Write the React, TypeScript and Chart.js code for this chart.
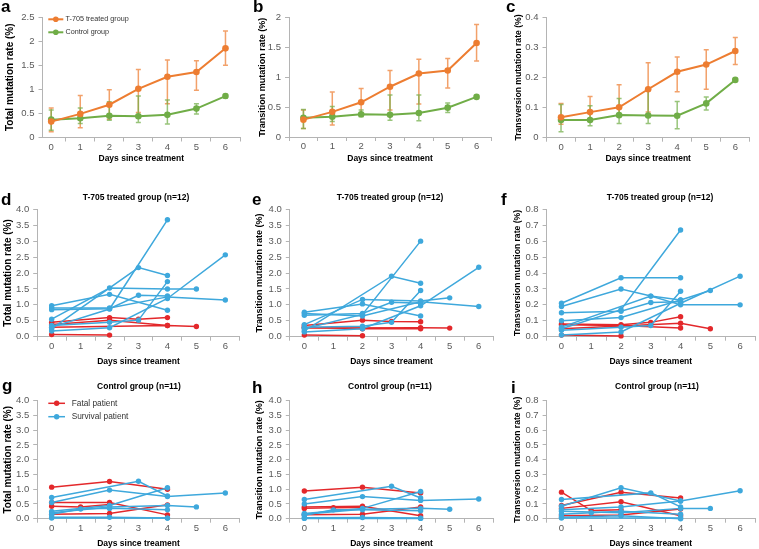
import React, { useEffect, useRef } from "react";
import { Chart, registerables } from "chart.js";

Chart.register(...registerables);

const FONT = 'Arial, "Liberation Sans", Helvetica, sans-serif';
const AXIS = "#B4B4B4";
const TICK = "#595959";
const ORANGE = "#ED7D31";
const GREEN = "#70AD47";
const ORANGE_ERR = "rgba(237,125,49,0.72)";
const GREEN_ERR = "rgba(112,173,71,0.72)";
const RED = "#E3282B";
const BLUE = "#3EA8DC";

type Pt = [number, number];

// ---------- top row: group means ----------
const days = [0, 1, 2, 3, 4, 5, 6];
const groupLabels = ["T-705 treated group", "Control group"];

const totalTreated = [0.33, 0.49, 0.68, 1.01, 1.26, 1.36, 1.85];
const totalTreatedLow = [0.12, 0.2, 0.38, 0.52, 0.7, 0.98, 1.5];
const totalTreatedHigh = [0.61, 0.87, 0.99, 1.41, 1.61, 1.59, 2.21];
const totalControl = [0.37, 0.4, 0.45, 0.44, 0.47, 0.6, 0.86];
const totalControlLow = [0.15, 0.29, 0.36, 0.31, 0.28, 0.49, 0.82];
const totalControlHigh = [0.57, 0.61, 0.74, 0.86, 0.78, 0.7, 0.89];

const transTreated = [0.29, 0.42, 0.58, 0.84, 1.06, 1.11, 1.57];
const transTreatedLow = [0.14, 0.2, 0.36, 0.45, 0.55, 0.82, 1.27];
const transTreatedHigh = [0.45, 0.75, 0.81, 1.11, 1.3, 1.31, 1.88];
const transControl = [0.32, 0.34, 0.38, 0.37, 0.4, 0.49, 0.67];
const transControlLow = [0.14, 0.26, 0.34, 0.28, 0.27, 0.41, 0.65];
const transControlHigh = [0.46, 0.51, 0.45, 0.7, 0.7, 0.57, 0.69];

const trvTreated = [0.068, 0.085, 0.101, 0.161, 0.219, 0.243, 0.288];
const trvTreatedLow = [0.045, 0.06, 0.075, 0.085, 0.153, 0.161, 0.243];
const trvTreatedHigh = [0.114, 0.137, 0.176, 0.249, 0.268, 0.292, 0.333];
const trvControl = [0.059, 0.059, 0.075, 0.074, 0.073, 0.114, 0.192];
const trvControlLow = [0.02, 0.04, 0.047, 0.047, 0.03, 0.092, 0.189];
const trvControlHigh = [0.11, 0.106, 0.13, 0.158, 0.12, 0.135, 0.195];

// ---------- patients: [day, rate %] ----------
const patientLabels = ["Fatal patient", "Survival patient"];

const dFatal: Pt[][] = [
  [[0, 0.07], [2, 0.05]],
  [[0, 0.45], [2, 0.6], [3, 0.55], [4, 0.6]],
  [[0, 0.3], [4, 0.35], [5, 0.32]],
  [[0, 0.38], [2, 0.52], [4, 0.35]],
];
const dSurvival: Pt[][] = [
  [[0, 0.3], [2, 0.87], [4, 3.67]],
  [[0, 0.55], [2, 1.53], [4, 1.5], [5, 1.5]],
  [[0, 0.97], [2, 1.33], [4, 0.83]],
  [[0, 0.25], [3, 2.17], [4, 1.92]],
  [[0, 0.85], [2, 0.88], [3, 1.3], [4, 1.28]],
  [[0, 0.35], [2, 0.45], [3, 0.52], [4, 1.73]],
  [[0, 0.18], [2, 0.28], [4, 1.2], [6, 2.57]],
  [[0, 0.9], [2, 0.9], [4, 1.25], [6, 1.15]],
];

const eFatal: Pt[][] = [
  [[0, 0.05], [2, 0.03]],
  [[0, 0.35], [2, 0.52], [3, 0.48], [4, 0.47]],
  [[0, 0.27], [4, 0.28], [5, 0.27]],
  [[0, 0.3], [2, 0.25], [4, 0.25]],
];
const eSurvival: Pt[][] = [
  [[0, 0.25], [2, 0.7], [4, 3.0]],
  [[0, 0.38], [2, 1.17], [4, 1.12], [5, 1.22]],
  [[0, 0.77], [2, 1.03], [4, 0.65]],
  [[0, 0.18], [3, 1.9], [4, 1.68]],
  [[0, 0.67], [2, 0.73], [3, 1.08], [4, 1.05]],
  [[0, 0.3], [2, 0.33], [3, 0.45], [4, 1.45]],
  [[0, 0.15], [2, 0.25], [4, 0.97], [6, 2.18]],
  [[0, 0.73], [2, 0.65], [4, 1.1], [6, 0.95]],
];

const fFatal: Pt[][] = [
  [[0, 0.01], [2, 0.005]],
  [[0, 0.08], [2, 0.075], [3, 0.09], [4, 0.125]],
  [[0, 0.05], [4, 0.085], [5, 0.05]],
  [[0, 0.075], [2, 0.07], [4, 0.055]],
];
const fSurvival: Pt[][] = [
  [[0, 0.05], [2, 0.17], [4, 0.67]],
  [[0, 0.21], [2, 0.37], [4, 0.37]],
  [[0, 0.19], [2, 0.3], [3, 0.255], [4, 0.2], [6, 0.2]],
  [[0, 0.06], [3, 0.255], [4, 0.23]],
  [[0, 0.15], [2, 0.16], [3, 0.215], [4, 0.22]],
  [[0, 0.04], [2, 0.06], [3, 0.07], [4, 0.285]],
  [[0, 0.01], [2, 0.03], [4, 0.21], [6, 0.38]],
  [[0, 0.1], [2, 0.12], [4, 0.23], [5, 0.29]],
];

const gFatal: Pt[][] = [
  [[0, 1.07], [2, 1.26], [4, 1.0]],
  [[0, 0.55], [2, 0.55], [4, 0.13]],
  [[0, 0.42], [1, 0.4], [2, 0.48]],
  [[0, 0.15], [2, 0.18], [4, 0.47]],
];
const gSurvival: Pt[][] = [
  [[0, 0.72], [3, 1.27], [4, 0.77]],
  [[0, 0.55], [2, 0.97], [4, 0.75], [6, 0.87]],
  [[0, 0.25], [2, 0.45], [4, 1.05]],
  [[0, 0.2], [2, 0.4], [4, 0.45], [5, 0.4]],
  [[0, 0.15], [1, 0.33], [2, 0.35], [4, 0.3]],
  [[0, 0.05], [2, 0.05], [4, 0.02]],
  [[0, 0.02], [4, 0.02]],
];

const hFatal: Pt[][] = [
  [[0, 0.94], [2, 1.07], [4, 0.87]],
  [[0, 0.4], [2, 0.42], [4, 0.1]],
  [[0, 0.35], [1, 0.37], [2, 0.38]],
  [[0, 0.13], [2, 0.15], [4, 0.4]],
];
const hSurvival: Pt[][] = [
  [[0, 0.65], [3, 1.1], [4, 0.7]],
  [[0, 0.5], [2, 0.75], [4, 0.62], [6, 0.67]],
  [[0, 0.18], [2, 0.35], [4, 0.92]],
  [[0, 0.15], [2, 0.32], [4, 0.35], [5, 0.32]],
  [[0, 0.12], [1, 0.3], [2, 0.3], [4, 0.27]],
  [[0, 0.03], [2, 0.04], [4, 0.02]],
  [[0, 0.01], [4, 0.01]],
];

const iFatal: Pt[][] = [
  [[0, 0.09], [2, 0.18], [4, 0.14]],
  [[0, 0.07], [2, 0.115], [4, 0.02]],
  [[0, 0.18], [1, 0.055], [2, 0.06]],
  [[0, 0.02], [2, 0.025], [4, 0.065]],
];
const iSurvival: Pt[][] = [
  [[0, 0.13], [3, 0.175], [4, 0.08]],
  [[0, 0.085], [2, 0.21], [4, 0.12], [6, 0.19]],
  [[0, 0.06], [2, 0.08], [4, 0.12]],
  [[0, 0.05], [2, 0.04], [4, 0.07], [5, 0.07]],
  [[0, 0.03], [1, 0.04], [2, 0.05], [4, 0.03]],
  [[0, 0.01], [2, 0.02], [4, 0.0]],
  [[0, 0.005], [4, 0.005]],
];

// ---------- plugins ----------
const errorBarPlugin = {
  id: "errorBars",
  beforeDatasetsDraw(chart: any) {
    const { ctx } = chart;
    const xs = chart.scales.x;
    const ys = chart.scales.y;
    chart.data.datasets.forEach((ds: any) => {
      if (!ds.errLow) return;
      ctx.save();
      ctx.strokeStyle = ds.errColor;
      ctx.lineWidth = 1.5;
      ds.data.forEach((p: any, j: number) => {
        const x = xs.getPixelForValue(p.x);
        const y1 = ys.getPixelForValue(ds.errLow[j]);
        const y2 = ys.getPixelForValue(ds.errHigh[j]);
        ctx.beginPath();
        ctx.moveTo(x, y1);
        ctx.lineTo(x, y2);
        ctx.moveTo(x - 2.5, y1);
        ctx.lineTo(x + 2.5, y1);
        ctx.moveTo(x - 2.5, y2);
        ctx.lineTo(x + 2.5, y2);
        ctx.stroke();
      });
      ctx.restore();
    });
  },
};

const lineLegendPlugin = {
  id: "lineLegend",
  afterDraw(chart: any, _args: any, opts: any) {
    if (!opts || !opts.items || !opts.items.length) return;
    const { ctx } = chart;
    ctx.save();
    ctx.font = `${opts.size}px ${FONT}`;
    ctx.textBaseline = "middle";
    ctx.textAlign = "left";
    for (let i = 0; i < opts.items.length; i++) {
      const it = opts.items[i];
      const y = opts.y + i * opts.dy;
      ctx.strokeStyle = it.color;
      ctx.fillStyle = it.color;
      ctx.lineWidth = opts.lw;
      ctx.beginPath();
      ctx.moveTo(opts.x, y);
      ctx.lineTo(opts.x + opts.len, y);
      ctx.stroke();
      ctx.beginPath();
      ctx.arc(opts.x + opts.len / 2, y, opts.r, 0, Math.PI * 2);
      ctx.fill();
      ctx.fillStyle = "#333333";
      ctx.fillText(it.label, opts.textX, y);
    }
    ctx.restore();
  },
};

const panelTitlePlugin = {
  id: "panelTitle",
  afterDraw(chart: any, _args: any, opts: any) {
    if (!opts || !opts.text) return;
    const { ctx } = chart;
    ctx.save();
    ctx.font = `bold ${opts.size}px ${FONT}`;
    ctx.fillStyle = "#000";
    ctx.textAlign = "center";
    ctx.textBaseline = "middle";
    ctx.fillText(opts.text, opts.x, opts.y);
    ctx.restore();
  },
};

// ---------- helpers ----------
const fmtPlain = (v: number) => String(Math.round(v * 100) / 100);
const fmtOne = (v: number) => Number(v).toFixed(1);
const isInt = (v: any) => typeof v === "number" && Math.abs(v - Math.round(v)) < 1e-6;

function groupDatasets(
  tr: number[], trLo: number[], trHi: number[],
  ct: number[], ctLo: number[], ctHi: number[]
) {
  const mk = (vals: number[], lo: number[], hi: number[], color: string, err: string, label: string) => ({
    label,
    data: days.map((d, i) => ({ x: d, y: vals[i] })),
    errLow: lo,
    errHigh: hi,
    errColor: err,
    borderColor: color,
    backgroundColor: color,
    borderWidth: 2,
    pointRadius: 3.3,
    pointBorderWidth: 0,
    tension: 0,
    clip: false,
  });
  return [
    mk(tr, trLo, trHi, ORANGE, ORANGE_ERR, groupLabels[0]),
    mk(ct, ctLo, ctHi, GREEN, GREEN_ERR, groupLabels[1]),
  ];
}

function patientDatasets(fatal: Pt[][], surv: Pt[][]) {
  const mk = (pts: Pt[], color: string, label: string) => ({
    label,
    data: pts.map(([x, y]) => ({ x, y })),
    borderColor: color,
    backgroundColor: color,
    borderWidth: 1.5,
    pointRadius: 2.7,
    pointBorderWidth: 0,
    tension: 0,
    clip: false,
  });
  return [
    ...surv.map((p) => mk(p, BLUE, patientLabels[1])),
    ...fatal.map((p) => mk(p, RED, patientLabels[0])),
  ];
}

interface PanelCfg {
  key: string;
  left: number;
  top: number;
  width: number;
  height: number;
  yW: number;
  xH: number;
  padTop: number;
  padRight: number;
  xMin: number;
  xMax: number;
  yMax: number;
  yStep: number;
  yFmt: (v: number) => string;
  yTitle: string;
  yTitleSize: number;
  yTitleCenter: number; // page x of the rotated title's centre
  xTitle: string;
  datasets: any[];
  title?: { text: string; x: number; y: number; size: number };
  legend?: any;
}

const X_TREAT = "Days since treatment";
const X_TREAM = "Days since treament";
const Y_TOTAL = "Total mutation rate (%)";
const Y_TRANS = "Transition mutation rate (%)";
const Y_TRV = "Transversion mutation rate (%)";
const T_TREATED = "T-705 treated group (n=12)";
const T_CONTROL = "Control group (n=11)";

const ROW1 = { top: 0, height: 164, padTop: 17, xH: 26.5 };
const ROW2 = { top: 190, height: 177, padTop: 19.3, xH: 30.3 };
const ROW3 = { top: 375, height: 174, padTop: 25.7, xH: 30.3 };
const COL1 = { left: 0, width: 245, yW: 37.2, padRight: 5.2 };
const COL2 = { left: 250, width: 250, yW: 39.8, padRight: 6.7 };
const COL3 = { left: 500, width: 259, yW: 46.6, padRight: 1.6 };

const panels: PanelCfg[] = [
  {
    key: "a", left: 0, top: ROW1.top, width: 245, height: ROW1.height, yW: 42.5, xH: ROW1.xH,
    padTop: 17, padRight: 5, xMin: -0.3, xMax: 6.5, yMax: 2.5, yStep: 0.5, yFmt: fmtPlain,
    yTitle: Y_TOTAL, yTitleSize: 10, yTitleCenter: 10.5, xTitle: X_TREAT,
    datasets: groupDatasets(totalTreated, totalTreatedLow, totalTreatedHigh, totalControl, totalControlLow, totalControlHigh),
    legend: {
      items: [
        { label: groupLabels[0], color: ORANGE },
        { label: groupLabels[1], color: GREEN },
      ],
      x: 48.3, len: 15, textX: 65.5, y: 19.3, dy: 13, size: 7.2, lw: 2, r: 2.8,
    },
  },
  {
    key: "b", left: 250, top: ROW1.top, width: 245, height: ROW1.height, yW: 39, xH: 27,
    padTop: 17.3, padRight: 3, xMin: -0.5, xMax: 6.5, yMax: 2, yStep: 0.5, yFmt: fmtPlain,
    yTitle: Y_TRANS, yTitleSize: 9, yTitleCenter: 263, xTitle: X_TREAT,
    datasets: groupDatasets(transTreated, transTreatedLow, transTreatedHigh, transControl, transControlLow, transControlHigh),
  },
  {
    key: "c", left: 500, top: ROW1.top, width: 255, height: ROW1.height, yW: 46.5, xH: 26.3,
    padTop: 17.3, padRight: 5.2, xMin: -0.5, xMax: 6.5, yMax: 0.4, yStep: 0.1, yFmt: fmtPlain,
    yTitle: Y_TRV, yTitleSize: 8.6, yTitleCenter: 519, xTitle: X_TREAT,
    datasets: groupDatasets(trvTreated, trvTreatedLow, trvTreatedHigh, trvControl, trvControlLow, trvControlHigh),
  },
  {
    key: "d", ...COL1, top: ROW2.top, height: ROW2.height, xH: ROW2.xH, padTop: ROW2.padTop,
    xMin: -0.5, xMax: 6.5, yMax: 4, yStep: 0.5, yFmt: fmtOne,
    yTitle: Y_TOTAL, yTitleSize: 10, yTitleCenter: 7.8, xTitle: X_TREAM,
    datasets: patientDatasets(dFatal, dSurvival),
    title: { text: T_TREATED, x: 136, y: 7.5, size: 8.5 },
  },
  {
    key: "e", ...COL2, top: ROW2.top, height: ROW2.height, xH: ROW2.xH, padTop: ROW2.padTop,
    xMin: -0.5, xMax: 6.5, yMax: 4, yStep: 0.5, yFmt: fmtOne,
    yTitle: Y_TRANS, yTitleSize: 9, yTitleCenter: 259.5, xTitle: X_TREAM,
    datasets: patientDatasets(eFatal, eSurvival),
    title: { text: T_TREATED, x: 140, y: 7.5, size: 8.5 },
  },
  {
    key: "f", ...COL3, top: ROW2.top, height: ROW2.height, xH: ROW2.xH, padTop: ROW2.padTop,
    xMin: -0.5, xMax: 6.5, yMax: 0.8, yStep: 0.1, yFmt: fmtOne,
    yTitle: Y_TRV, yTitleSize: 8.6, yTitleCenter: 517.5, xTitle: X_TREAM,
    datasets: patientDatasets(fFatal, fSurvival),
    title: { text: T_TREATED, x: 160, y: 7.5, size: 8.5 },
  },
  {
    key: "g", ...COL1, top: ROW3.top, height: ROW3.height, xH: ROW3.xH, padTop: ROW3.padTop,
    xMin: -0.5, xMax: 6.5, yMax: 4, yStep: 0.5, yFmt: fmtOne,
    yTitle: Y_TOTAL, yTitleSize: 10, yTitleCenter: 7.8, xTitle: X_TREAM,
    datasets: patientDatasets(gFatal, gSurvival),
    title: { text: T_CONTROL, x: 139, y: 12, size: 8.5 },
    legend: {
      items: [
        { label: patientLabels[0], color: RED },
        { label: patientLabels[1], color: BLUE },
      ],
      x: 48.3, len: 16.7, textX: 71.7, y: 28.3, dy: 13.4, size: 8.3, lw: 1.5, r: 2.7,
    },
  },
  {
    key: "h", ...COL2, top: ROW3.top, height: ROW3.height, xH: ROW3.xH, padTop: ROW3.padTop,
    xMin: -0.5, xMax: 6.5, yMax: 4, yStep: 0.5, yFmt: fmtOne,
    yTitle: Y_TRANS, yTitleSize: 9, yTitleCenter: 260, xTitle: X_TREAM,
    datasets: patientDatasets(hFatal, hSurvival),
    title: { text: T_CONTROL, x: 140, y: 12, size: 8.5 },
  },
  {
    key: "i", ...COL3, top: ROW3.top, height: ROW3.height, xH: ROW3.xH, padTop: ROW3.padTop,
    xMin: -0.5, xMax: 6.5, yMax: 0.8, yStep: 0.1, yFmt: fmtOne,
    yTitle: Y_TRV, yTitleSize: 8.6, yTitleCenter: 517.5, xTitle: X_TREAM,
    datasets: patientDatasets(iFatal, iSurvival),
    title: { text: T_CONTROL, x: 157, y: 12, size: 8.5 },
  },
];

const letters = [
  { t: "a", left: 1, top: -1.7 },
  { t: "b", left: 253, top: -2.4 },
  { t: "c", left: 506, top: -2 },
  { t: "d", left: 1, top: 190.6 },
  { t: "e", left: 252, top: 190.6 },
  { t: "f", left: 501, top: 190.6 },
  { t: "g", left: 2, top: 376.6 },
  { t: "h", left: 252, top: 378.6 },
  { t: "i", left: 511, top: 378.6 },
];

function buildConfig(p: PanelCfg): any {
  const tickFont = { family: FONT, size: 9.5 };
  const yTitlePad = Math.max(0, p.yTitleCenter - p.left - 0.6 * p.yTitleSize);
  return {
    type: "line",
    data: { datasets: p.datasets },
    options: {
      animation: false,
      responsive: false,
      events: [],
      layout: { padding: { top: p.padTop, right: p.padRight, left: 0, bottom: 0 } },
      plugins: {
        legend: { display: false },
        tooltip: { enabled: false },
        lineLegend: p.legend || {},
        panelTitle: p.title || {},
      },
      scales: {
        x: {
          type: "linear",
          min: p.xMin,
          max: p.xMax,
          bounds: "data",
          afterBuildTicks: (s: any) => {
            const t: any[] = [];
            for (let v = Math.ceil(p.xMin * 2) / 2; v <= p.xMax + 1e-9; v += 0.5) t.push({ value: v });
            s.ticks = t;
          },
          afterFit: (s: any) => {
            s.height = p.xH;
          },
          grid: {
            drawOnChartArea: false,
            drawTicks: true,
            tickLength: 4,
            color: AXIS,
            tickColor: (c: any) => (c.tick && isInt(c.tick.value) ? "rgba(0,0,0,0)" : AXIS),
          },
          border: { display: true, color: AXIS, width: 1 },
          ticks: {
            autoSkip: false,
            maxRotation: 0,
            minRotation: 0,
            padding: 0,
            font: tickFont,
            color: TICK,
            callback: (v: any) => (isInt(v) && v >= 0 ? String(Math.round(v)) : ""),
          },
          title: {
            display: true,
            text: p.xTitle,
            font: { family: FONT, size: 8.5, weight: "bold" },
            color: "#000",
            padding: 0,
          },
        },
        y: {
          type: "linear",
          min: 0,
          max: p.yMax,
          afterFit: (s: any) => {
            s.width = p.yW;
          },
          grid: { drawOnChartArea: false, drawTicks: true, tickLength: 4, color: AXIS },
          border: { display: true, color: AXIS, width: 1 },
          ticks: {
            stepSize: p.yStep,
            font: tickFont,
            color: TICK,
            padding: 4,
            callback: (v: any) => p.yFmt(v),
          },
          title: {
            display: true,
            text: p.yTitle,
            font: { family: FONT, size: p.yTitleSize, weight: "bold" },
            color: "#000",
            padding: { top: yTitlePad, bottom: 0 },
          },
        },
      },
    },
    plugins: [errorBarPlugin, lineLegendPlugin, panelTitlePlugin],
  };
}

function Panel({ cfg }: { cfg: PanelCfg }) {
  const ref = useRef<HTMLCanvasElement>(null);
  useEffect(() => {
    if (!ref.current) return;
    const chart = new Chart(ref.current, buildConfig(cfg));
    return () => chart.destroy();
  }, [cfg]);
  return (
    <div style={{ position: "absolute", left: cfg.left, top: cfg.top, width: cfg.width, height: cfg.height }}>
      <canvas ref={ref} width={cfg.width} height={cfg.height} style={{ width: cfg.width, height: cfg.height, display: "block" }} />
    </div>
  );
}

export default function App() {
  return (
    <div
      style={{
        position: "absolute",
        left: 0,
        top: 0,
        width: 759,
        height: 549,
        overflow: "hidden",
        background: "#ffffff",
      }}
    >
      {panels.map((p) => (
        <Panel key={p.key} cfg={p} />
      ))}
      {letters.map((l) => (
        <div
          key={l.t}
          style={{
            position: "absolute",
            left: l.left,
            top: l.top,
            font: `bold 17px ${FONT}`,
            lineHeight: "17px",
            color: "#000",
          }}
        >
          {l.t}
        </div>
      ))}
    </div>
  );
}
